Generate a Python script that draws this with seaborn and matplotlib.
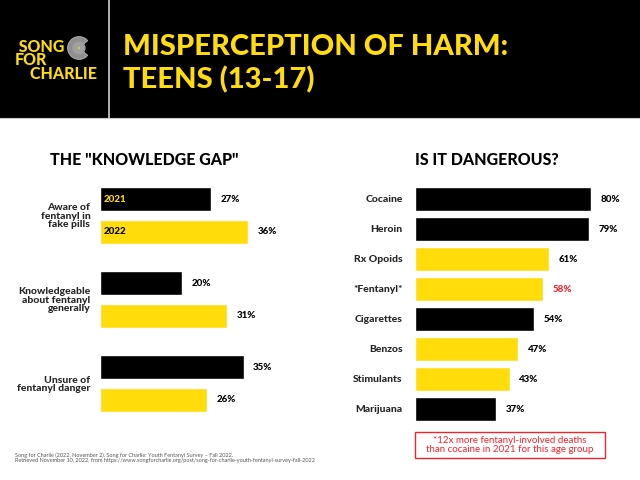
import pandas as pd
import matplotlib
matplotlib.use("Agg")
import matplotlib.pyplot as plt
import seaborn as sns
from matplotlib.patches import Rectangle, Circle, Wedge
from matplotlib.lines import Line2D

# --- Data ---
gap_labels = ["Aware of\nfentanyl in\nfake pills",
              "Knowledgeable\nabout fentanyl\ngenerally",
              "Unsure of\nfentanyl danger"]
years = ["2021", "2022"]
vals_2021 = [27, 20, 35]
vals_2022 = [36, 31, 26]

drugs = ["Cocaine", "Heroin", "Rx Opoids", "*Fentanyl*",
         "Cigarettes", "Benzos", "Stimulants", "Marijuana"]
danger_pct = [80, 79, 61, 58, 54, 47, 43, 37]
drug_fill = ["black", "black", "yellow", "yellow", "black", "yellow", "yellow", "black"]

YELLOW = "#FFDC0A"
BLACK = "#000000"
RED = "#F5222D"
W, H = 640, 480

sns.set_theme(style="white")
plt.rcParams["font.family"] = ["Lato", "DejaVu Sans"]

fig = plt.figure(figsize=(6.4, 4.8), dpi=100)
fig.patch.set_facecolor("white")


def fx(px):
    return px / W


def fy(py):
    return 1 - py / H


# --- Header band ---
fig.add_artist(Rectangle((0, fy(118)), 1, 118 / H, transform=fig.transFigure,
                         facecolor=BLACK, edgecolor="none", zorder=0))
fig.add_artist(Line2D([fx(109), fx(109)], [fy(0), fy(118)], transform=fig.transFigure,
                      color="#d0d0d0", lw=1.2))
fig.add_artist(Line2D([0, 1], [fy(118), fy(118)], transform=fig.transFigure,
                      color="#cccccc", lw=0.8))

# logo (one stacked text block, lines nudged with spaces like the original)
fig.text(fx(15), fy(79), " SONG\nFOR\n    CHARLIE", color=YELLOW, fontsize=11.5,
         fontweight="black", va="baseline", ha="left", linespacing=0.82)
disc_ax = fig.add_axes([fx(67), fy(62), 24 / W, 28 / H])
disc_ax.set_xlim(-1, 1)
disc_ax.set_ylim(-1, 1)
disc_ax.set_aspect("equal")
disc_ax.axis("off")
disc_ax.add_patch(Wedge((0, 0), 0.95, 40, 320, facecolor="#8f8f8f", edgecolor="#b5b5b5", lw=0.6))
disc_ax.add_patch(Circle((0, 0), 0.55, facecolor="#a0a0a0", edgecolor="none"))
disc_ax.add_patch(Circle((0, 0), 0.08, facecolor=YELLOW, edgecolor="none"))

# title
fig.text(fx(123), fy(55), "MISPERCEPTION OF HARM:", color=YELLOW, fontsize=21,
         fontweight="black", va="baseline", ha="left")
fig.text(fx(123), fy(88), "TEENS (13-17)", color=YELLOW, fontsize=21,
         fontweight="black", va="baseline", ha="left")

# --- Left chart: knowledge gap ---
gap_df = pd.DataFrame({
    "metric": gap_labels * 2,
    "year": [years[0]] * 3 + [years[1]] * 3,
    "value": vals_2021 + vals_2022,
})

ax1 = fig.add_axes([fx(100), fy(425.5), 205 / W, 252 / H])
sns.barplot(data=gap_df, y="metric", x="value", hue="year", orient="h",
            palette=[BLACK, YELLOW], width=0.774, gap=0.25, legend=False,
            saturation=1, ax=ax1)
ax1.set_xlim(0, 50)
ax1.set_ylim(2.5, -0.5)
ax1.set_xlabel("")
ax1.set_ylabel("")
ax1.set_xticks([])
ax1.tick_params(axis="y", length=0, pad=7)
for lab in ax1.get_yticklabels():
    lab.set_fontsize(7.5)
    lab.set_fontweight("black")
    lab.set_linespacing(0.95)
for sp in ax1.spines.values():
    sp.set_visible(False)

for cont in ax1.containers:
    for bar, v in zip(cont, cont.datavalues):
        ax1.annotate(f"{v:.0f}%", (bar.get_width(), bar.get_y() + bar.get_height() / 2),
                     xytext=(7, 0), textcoords="offset points", va="center",
                     ha="left", fontsize=7, fontweight="black", color=BLACK)

# in-bar year labels on first group
first = [cont[0] for cont in ax1.containers]
for bar, yr, col in zip(first, years, [YELLOW, BLACK]):
    ax1.annotate(yr, (0, bar.get_y() + bar.get_height() / 2), xytext=(3, 0),
                 textcoords="offset points", va="center", ha="left",
                 fontsize=7, fontweight="black", color=col)

fig.text(fx(50), fy(165), "THE \"KNOWLEDGE GAP\"", color=BLACK, fontsize=11.5,
         fontweight="black", va="baseline", ha="left")

# --- Right chart: is it dangerous ---
danger_df = pd.DataFrame({"drug": drugs, "pct": danger_pct})
ax2 = fig.add_axes([fx(415), fy(424), 220 / W, 240 / H])
sns.barplot(data=danger_df, y="drug", x="pct", hue="drug", orient="h",
            palette=[BLACK if c == "black" else YELLOW for c in drug_fill],
            width=0.8, legend=False, saturation=1, ax=ax2)
ax2.set_xlim(0, 100)
ax2.set_ylim(7.5, -0.5)
ax2.set_xlabel("")
ax2.set_ylabel("")
ax2.set_xticks([])
ax2.tick_params(axis="y", length=0, pad=9)
for lab in ax2.get_yticklabels():
    lab.set_fontsize(7.5)
    lab.set_fontweight("black")
for sp in ax2.spines.values():
    sp.set_visible(False)

for cont in ax2.containers:
    for bar, v in zip(cont, cont.datavalues):
        col = RED if v == danger_pct[drugs.index("*Fentanyl*")] else BLACK
        ax2.annotate(f"{v:.0f}%", (bar.get_width(), bar.get_y() + bar.get_height() / 2),
                     xytext=(7, 0), textcoords="offset points", va="center",
                     ha="left", fontsize=7, fontweight="black", color=col)

fig.text(fx(415), fy(165), "IS IT DANGEROUS?", color=BLACK, fontsize=11.5,
         fontweight="black", va="baseline", ha="left")

# footnote box
fig.add_artist(Rectangle((fx(415), fy(458)), 190 / W, 26 / H, transform=fig.transFigure,
                         facecolor="white", edgecolor=RED, lw=1))
fig.text(fx(510), fy(445), "*12x more fentanyl-involved deaths\nthan cocaine in 2021 for this age group",
         color=RED, fontsize=7, ha="center", va="center", linespacing=0.95)

# source
fig.text(fx(15), fy(462),
         "Song for Charlie (2022, November 2). Song for Charlie: Youth Fentanyl Survey \u2013 Fall 2022.\n"
         "Retrieved November 10, 2022, from https://www.songforcharlie.org/post/song-for-charlie-youth-fentanyl-survey-fall-2022",
         color="#555555", fontsize=4, ha="left", va="baseline", linespacing=1.1)

fig.savefig("out.png", dpi=100, facecolor="white")
